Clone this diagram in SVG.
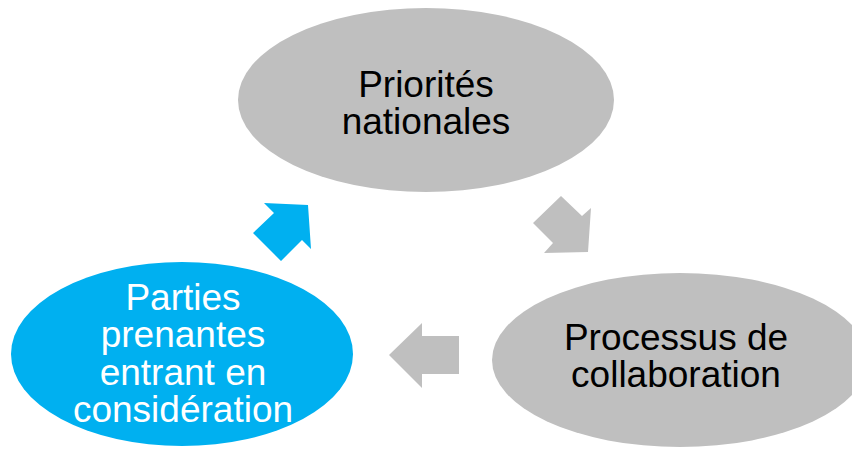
<svg xmlns="http://www.w3.org/2000/svg" width="852" height="449" viewBox="0 0 852 449">
<style>
.gray{fill:#BFBFBF}
.blue{fill:#00B0F0}
.t{font-family:"Liberation Sans",Arial,sans-serif;font-size:37px;text-anchor:middle}
.dark{fill:#000}
.light{fill:#fff}
</style>
<rect width="852" height="449" fill="#fff"/>
<g id="connectors">
<polygon class="gray" points="561,196 582,216 591,208 588,252 544,253 553,243 533,223"/>
<polygon class="gray" points="389,355 422,323 422,336 459,336 459,374 422,374 422,388"/>
<polygon class="blue" points="264,203 308,205 311,249 302,240 281,261 253,233 274,213"/>
</g>
<g id="node-priorites">
<ellipse class="gray" cx="426" cy="100" rx="188" ry="92"/>
<text class="t dark" x="426"><tspan x="426" y="97">Priorités</tspan><tspan x="426" y="134">nationales</tspan></text>
</g>
<g id="node-processus">
<ellipse class="gray" cx="680" cy="360" rx="188" ry="87"/>
<text class="t dark"><tspan x="676" y="350">Processus de</tspan><tspan x="676" y="387">collaboration</tspan></text>
</g>
<g id="node-parties">
<ellipse class="blue" cx="182" cy="354" rx="171" ry="92"/>
<text class="t light"><tspan x="183" y="310">Parties</tspan><tspan x="183" y="347">prenantes</tspan><tspan x="183" y="385">entrant en</tspan><tspan x="183" y="422">considération</tspan></text>
</g>
</svg>
